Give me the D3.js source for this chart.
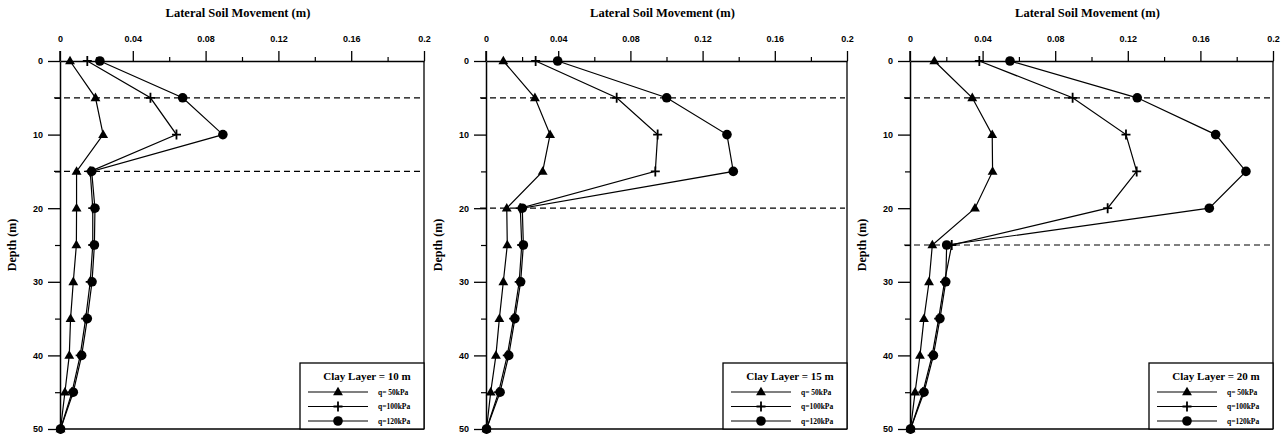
<!DOCTYPE html>
<html>
<head>
<meta charset="utf-8">
<script src="https://cdn.jsdelivr.net/npm/d3@7"></script>
<style>
  html, body { margin: 0; padding: 0; background: #fff; }
  svg { display: block; }
</style>
</head>
<body>
<svg id="chart" width="1288" height="437"></svg>
<script>
// Depth below ground surface (m)
const depths = [0, 5, 10, 15, 20, 25, 30, 35, 40, 45, 50];
const xTickValues = [0, 0.04, 0.08, 0.12, 0.16, 0.2];
const xMinorTicks = [0.02, 0.06, 0.10, 0.14, 0.18];
const yTickValues = [0, 10, 20, 30, 40, 50];
const yMinorTicks = [5, 15, 25, 35, 45];
const clayLayers = [10, 15, 20];
const seriesLabels = ["q= 50kPa", "q=100kPa", "q=120kPa"];

// Lateral soil movement (m), clay layer 10 m
const clay10_q50  = [0.0055, 0.0195, 0.0237, 0.0091, 0.0091, 0.0090, 0.0073, 0.0058, 0.0051, 0.0027, 0.0003];
const clay10_q100 = [0.0150, 0.0497, 0.0640, 0.0166, 0.0180, 0.0180, 0.0166, 0.0141, 0.0111, 0.0066, 0.0003];
const clay10_q120 = [0.0219, 0.0674, 0.0895, 0.0174, 0.0192, 0.0189, 0.0176, 0.0150, 0.0119, 0.0073, 0.0003];

// Lateral soil movement (m), clay layer 15 m
const clay15_q50  = [0.0096, 0.0271, 0.0355, 0.0314, 0.0115, 0.0118, 0.0096, 0.0074, 0.0055, 0.0026, 0.0003];
const clay15_q100 = [0.0275, 0.0724, 0.0951, 0.0938, 0.0190, 0.0198, 0.0184, 0.0153, 0.0118, 0.0070, 0.0003];
const clay15_q120 = [0.0397, 0.1001, 0.1335, 0.1370, 0.0201, 0.0207, 0.0192, 0.0160, 0.0126, 0.0078, 0.0003];

// Lateral soil movement (m), clay layer 20 m
const clay20_q50  = [0.0134, 0.0343, 0.0453, 0.0455, 0.0358, 0.0123, 0.0105, 0.0077, 0.0055, 0.0028, 0.0003];
const clay20_q100 = [0.0382, 0.0896, 0.1190, 0.1249, 0.1089, 0.0230, 0.0190, 0.0158, 0.0122, 0.0071, 0.0003];
const clay20_q120 = [0.0551, 0.1252, 0.1684, 0.1851, 0.1649, 0.0202, 0.0197, 0.0165, 0.0129, 0.0077, 0.0003];

// Layer boundaries (m) drawn as dashed lines
const boundaries10 = [5, 15];
const boundaries15 = [5, 20];
const boundaries20 = [5, 25];

const panels = [
  { clay: clayLayers[0], series: [clay10_q50, clay10_q100, clay10_q120], bounds: boundaries10, left: 60,  width: 364 },
  { clay: clayLayers[1], series: [clay15_q50, clay15_q100, clay15_q120], bounds: boundaries15, left: 486, width: 361 },
  { clay: clayLayers[2], series: [clay20_q50, clay20_q100, clay20_q120], bounds: boundaries20, left: 910, width: 363 }
];

const plotTop = 61, plotBottom = 429;
const svg = d3.select("#chart");
const serif = "'Liberation Serif', 'Times New Roman', serif";
const sans = "'Liberation Sans', Arial, sans-serif";

// Marker drawing: 0 = filled triangle, 1 = plus, 2 = filled circle
function drawMarker(g, kind, cx, cy) {
  if (kind === 0) {
    g.append("path")
      .attr("d", d3.symbol().type(d3.symbolTriangle).size(42)())
      .attr("transform", `translate(${cx},${cy + 0.5})`)
      .attr("fill", "#000");
  } else if (kind === 1) {
    g.append("path")
      .attr("d", `M${cx - 4.5},${cy}H${cx + 4.5}M${cx},${cy - 5}V${cy + 5}`)
      .attr("stroke", "#000").attr("stroke-width", 1.8).attr("fill", "none");
  } else {
    g.append("circle").attr("cx", cx).attr("cy", cy).attr("r", 4.8).attr("fill", "#000");
  }
}

panels.forEach(p => {
  const x = d3.scaleLinear().domain([0, 0.2]).range([p.left, p.left + p.width]);
  const y = d3.scaleLinear().domain([0, 50]).range([plotTop, plotBottom]);
  const g = svg.append("g");

  // Frame: right and bottom borders
  g.append("line").attr("x1", x(0.2)).attr("x2", x(0.2)).attr("y1", y(0)).attr("y2", y(50))
    .attr("stroke", "#000").attr("stroke-width", 1.3);
  g.append("line").attr("x1", x(0)).attr("x2", x(0.2)).attr("y1", y(50)).attr("y2", y(50))
    .attr("stroke", "#000").attr("stroke-width", 1.3);

  // Top axis
  const xAxis = d3.axisTop(x).tickValues(xTickValues).tickSize(10).tickSizeOuter(0)
    .tickFormat(d => d === 0 ? "0" : String(+d.toFixed(2)));
  const xg = g.append("g").attr("transform", `translate(0,${y(0)})`).call(xAxis);
  xg.select(".domain").attr("stroke-width", 1.3);
  xg.selectAll(".tick line").attr("stroke-width", 1.3);
  xg.selectAll(".tick text").attr("y", -22).attr("dy", "0.32em")
    .style("font-family", sans).style("font-size", "9px").style("font-weight", "bold");
  g.append("g").attr("transform", `translate(0,${y(0)})`)
    .call(d3.axisTop(x).tickValues(xMinorTicks).tickSize(4).tickFormat(""))
    .call(s => s.select(".domain").remove())
    .selectAll("line").attr("stroke-width", 1.2);

  // Left axis
  const yAxis = d3.axisLeft(y).tickValues(yTickValues).tickSize(12).tickSizeOuter(0);
  const yg = g.append("g").attr("transform", `translate(${x(0)},0)`).call(yAxis);
  yg.select(".domain").attr("stroke-width", 1.5);
  yg.selectAll(".tick line").attr("stroke-width", 1.3);
  yg.selectAll(".tick text").attr("x", -17)
    .style("font-family", sans).style("font-size", "9px").style("font-weight", "bold");
  g.append("g").attr("transform", `translate(${x(0)},0)`)
    .call(d3.axisLeft(y).tickValues(yMinorTicks).tickSize(5).tickFormat(""))
    .call(s => s.select(".domain").remove())
    .selectAll("line").attr("stroke-width", 1.2);
  // left axis stub above the top axis
  g.append("line").attr("x1", x(0)).attr("x2", x(0)).attr("y1", y(0) - 10).attr("y2", y(0))
    .attr("stroke", "#000").attr("stroke-width", 1.5);

  // Axis titles
  g.append("text").attr("x", x(0.1) - 4).attr("y", 17).attr("text-anchor", "middle")
    .style("font-family", serif).style("font-size", "12.5px").style("font-weight", "bold")
    .text("Lateral Soil Movement (m)");
  g.append("text")
    .attr("transform", `translate(${x(0) - 44},${(plotTop + plotBottom) / 2}) rotate(-90)`)
    .attr("text-anchor", "middle")
    .style("font-family", serif).style("font-size", "12px").style("font-weight", "bold")
    .text("Depth (m)");

  // Layer boundaries
  p.bounds.forEach(b => {
    g.append("line").attr("x1", x(0) - 6).attr("x2", x(0.2) - 2).attr("y1", y(b)).attr("y2", y(b))
      .attr("stroke", "#000").attr("stroke-width", 1.2).attr("stroke-dasharray", "6,4");
  });

  // Series
  const line = d3.line().x(d => x(d[0])).y(d => y(d[1]));
  p.series.forEach((vals, k) => {
    const pts = vals.map((v, i) => [v, depths[i]]);
    g.append("path").attr("d", line(pts)).attr("fill", "none")
      .attr("stroke", "#000").attr("stroke-width", 1.2);
    pts.forEach(pt => drawMarker(g, k, x(pt[0]), y(pt[1])));
  });

  // Legend
  const lx = x(0.2) - 124, ly = y(50) - 66;
  const lg = g.append("g");
  lg.append("rect").attr("x", lx).attr("y", ly).attr("width", 124).attr("height", 66)
    .attr("fill", "#fff").attr("stroke", "#000").attr("stroke-width", 1.3);
  lg.append("text").attr("x", lx + 67).attr("y", ly + 17).attr("text-anchor", "middle")
    .style("font-family", serif).style("font-size", "11px").style("font-weight", "bold")
    .text(`Clay Layer = ${p.clay} m`);
  seriesLabels.forEach((lab, k) => {
    const ry = ly + 29 + k * 14.5;
    lg.append("line").attr("x1", lx + 8).attr("x2", lx + 68).attr("y1", ry).attr("y2", ry)
      .attr("stroke", "#000").attr("stroke-width", 1.2);
    drawMarker(lg, k, lx + 38, ry);
    lg.append("text").attr("x", lx + 78).attr("y", ry).attr("dy", "0.35em")
      .attr("fill", "#000")
      .style("font-family", serif).style("font-size", "7.5px").style("font-weight", "bold")
      .text(lab);
  });
});
</script>
</body>
</html>
